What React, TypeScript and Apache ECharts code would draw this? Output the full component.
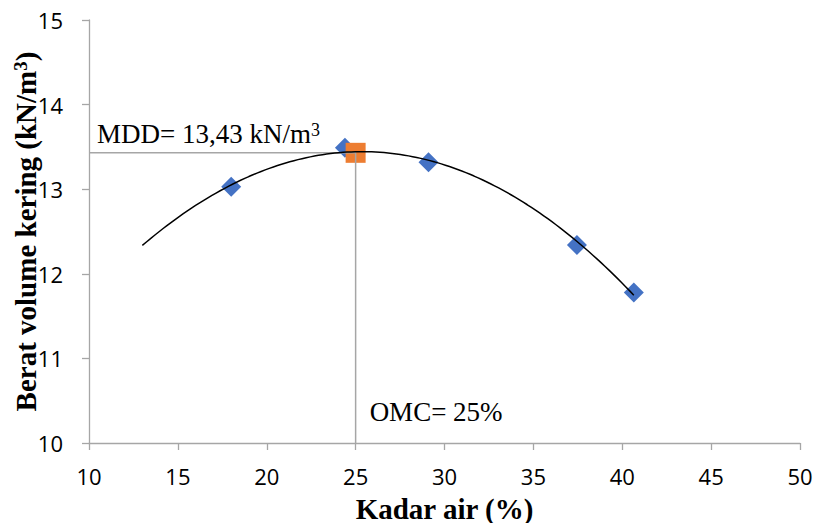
import React, { useEffect, useRef } from "react";
import * as echarts from "echarts";

// ---- data ----
const moistureContent = [18.0, 24.4, 29.1, 37.45, 40.65]; // Kadar air (%)
const dryUnitWeight = [13.03, 13.49, 13.32, 12.34, 11.78]; // kN/m3
const OMC = 25; // optimum moisture content (%)
const MDD = 13.43; // maximum dry density (kN/m3)
const xTickMin = 10;
const xTickMax = 50;
const xTickStep = 5;
const yTickMin = 10;
const yTickMax = 15;
const yTickStep = 1;
const trendBackwardForecast = 5; // trendline extended 5 units before first point

// least-squares polynomial (order 2) trendline of the measured points
function fitQuadratic(xs: number[], ys: number[]): number[] {
  const S = (p: number) => xs.reduce((s, x) => s + Math.pow(x, p), 0);
  const T = (p: number) => xs.reduce((s, x, i) => s + Math.pow(x, p) * ys[i], 0);
  const A = [
    [S(0), S(1), S(2), T(0)],
    [S(1), S(2), S(3), T(1)],
    [S(2), S(3), S(4), T(2)],
  ];
  for (let i = 0; i < 3; i++) {
    let piv = i;
    for (let r = i + 1; r < 3; r++) if (Math.abs(A[r][i]) > Math.abs(A[piv][i])) piv = r;
    [A[i], A[piv]] = [A[piv], A[i]];
    for (let r = 0; r < 3; r++) {
      if (r === i) continue;
      const f = A[r][i] / A[i][i];
      for (let c = i; c < 4; c++) A[r][c] -= f * A[i][c];
    }
  }
  return [A[0][3] / A[0][0], A[1][3] / A[1][1], A[2][3] / A[2][2]];
}

export default function App() {
  const ref = useRef<HTMLDivElement>(null);
  useEffect(() => {
    if (!ref.current) return;
    const chart = echarts.init(ref.current, undefined, { renderer: "svg" });

    const coef = fitQuadratic(moistureContent, dryUnitWeight);
    const tStart = Math.min(...moistureContent) - trendBackwardForecast;
    const tEnd = Math.max(...moistureContent);
    const trend: number[][] = [];
    const steps = 120;
    for (let i = 0; i <= steps; i++) {
      const x = tStart + ((tEnd - tStart) * i) / steps;
      trend.push([x, coef[0] + coef[1] * x + coef[2] * x * x]);
    }

    const axisGray = "#a6a6a6";
    const tickFont = { fontFamily: "Open Sans", fontSize: 22, color: "#000" };
    const titleFont = {
      fontFamily: "Liberation Serif",
      fontWeight: "bold" as const,
      fontSize: 29,
      color: "#000",
    };

    chart.setOption({
      animation: false,
      grid: { left: 89, right: 16, top: 20, bottom: 80, outerBoundsMode: "none", containLabel: false },
      xAxis: {
        type: "value",
        min: xTickMin,
        max: xTickMax,
        interval: xTickStep,
        name: "Kadar air (%)",
        nameLocation: "middle",
        nameGap: 51,
        nameTextStyle: titleFont,
        axisLine: { show: true, onZero: false, lineStyle: { color: axisGray, width: 1.3 } },
        axisTick: { show: true, length: 7, lineStyle: { color: axisGray, width: 1.3 } },
        axisLabel: { ...tickFont, margin: 22 },
        splitLine: { show: false },
      },
      yAxis: {
        type: "value",
        min: yTickMin,
        max: yTickMax,
        interval: yTickStep,
        name: "Berat volume kering (kN/m{sup|3})",
        nameLocation: "middle",
        nameRotate: 90,
        nameGap: 49,
        nameMoveOverlap: false,
        nameTextStyle: {
          ...titleFont,
          rich: {
            sup: {
              fontFamily: "Liberation Serif",
              fontWeight: "bold",
              fontSize: 19,
              color: "#000",
              verticalAlign: "top",
              padding: [0, 0, 8, 0],
            },
          },
        },
        axisLine: { show: true, onZero: false, lineStyle: { color: axisGray, width: 1.3 } },
        axisTick: { show: true, length: 7, lineStyle: { color: axisGray, width: 1.3 } },
        axisLabel: { ...tickFont, margin: 26 },
        splitLine: { show: false },
      },
      series: [
        {
          type: "scatter",
          name: "data",
          symbol: "diamond",
          symbolSize: 20,
          itemStyle: { color: "#4472C4", opacity: 1 },
          data: moistureContent.map((x, i) => [x, dryUnitWeight[i]]),
          z: 2,
        },
        {
          type: "scatter",
          name: "optimum",
          symbol: "rect",
          symbolSize: 20,
          itemStyle: { color: "#ED7D31", opacity: 1 },
          data: [[OMC, MDD]],
          z: 3,
        },
        {
          type: "line",
          name: "reference",
          showSymbol: false,
          symbol: "none",
          lineStyle: { color: axisGray, width: 1.5 },
          data: [
            [xTickMin, MDD],
            [OMC, MDD],
            [OMC, yTickMin],
          ],
          z: 4,
        },
        {
          type: "line",
          name: "trend",
          showSymbol: false,
          symbol: "none",
          lineStyle: { color: "#000", width: 1.5 },
          data: trend,
          z: 5,
        },
      ],
    });

    const pMDD = chart.convertToPixel({ gridIndex: 0 }, [xTickMin, MDD]) as number[];
    const pOMC = chart.convertToPixel({ gridIndex: 0 }, [OMC, yTickMin]) as number[];
    const labelFont = { fontFamily: "Liberation Serif", fontSize: 27, fill: "#000" };

    chart.setOption({
      graphic: [
        {
          type: "text",
          x: pMDD[0] + 8,
          y: pMDD[1] - 18.5,
          z: 10,
          style: {
            ...labelFont,
            text: `MDD= ${MDD.toFixed(2).replace(".", ",")} kN/m{sup|3}`,
            verticalAlign: "middle",
            rich: {
              sup: {
                fontFamily: "Liberation Serif",
                fontSize: 18,
                fill: "#000",
                verticalAlign: "top",
                padding: [0, 0, 8, 0],
              },
            },
          },
        },
        {
          type: "text",
          x: pOMC[0] + 14,
          y: pOMC[1] - 31,
          z: 10,
          style: {
            ...labelFont,
            text: `OMC= ${OMC}%`,
            verticalAlign: "middle",
          },
        },
      ],
    });

    return () => chart.dispose();
  }, []);

  return (
    <div
      ref={ref}
      style={{ position: "fixed", left: 0, top: 0, width: 816, height: 523, background: "#fff" }}
    />
  );
}
